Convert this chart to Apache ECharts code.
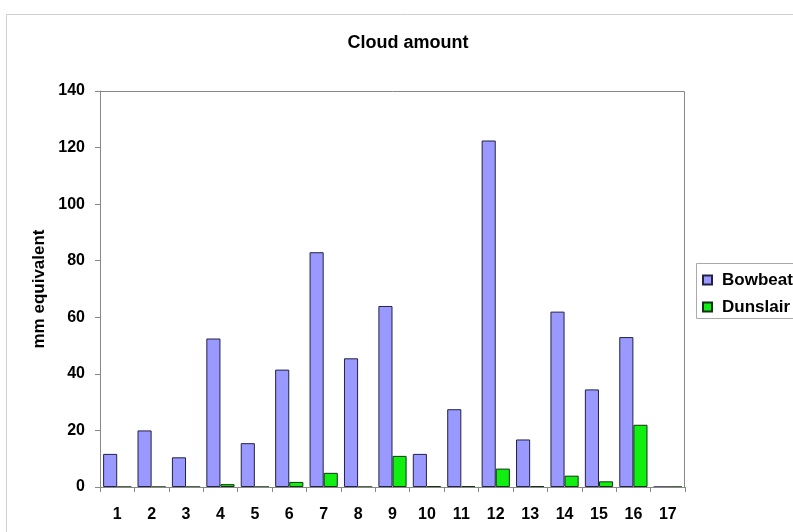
<!DOCTYPE html>
<html><head><meta charset="utf-8">
<script src="https://cdn.jsdelivr.net/npm/echarts@6/dist/echarts.min.js"></script>
<style>html,body{margin:0;padding:0;background:#fff}#c{width:793px;height:532px}</style>
</head><body><div id="c"></div>
<script>
var categories = ['1','2','3','4','5','6','7','8','9','10','11','12','13','14','15','16','17'];
var bowbeat = [11.7, 20, 10.5, 52.5, 15.5, 41.5, 83, 45.5, 64, 11.7, 27.5, 122.5, 16.8, 62, 34.5, 53, 0];
var dunslair = [0, 0, 0, 1, 0, 1.8, 5, 0, 11, 0.3, 0.3, 6.5, 0.3, 4, 2, 22, 0];
var yTicks = [0, 20, 40, 60, 80, 100, 120, 140];

var chart = echarts.init(document.getElementById('c'));
var font = 'Arial, "Liberation Sans", sans-serif';
chart.setOption({
  animation: false,
  backgroundColor: '#fff',
  title: {text: 'Cloud amount', left: 403, top: 29, textAlign: 'center',
    textStyle: {fontFamily: font, fontSize: 18, fontWeight: 'bold', color: '#000'}},
  graphic: [
    {type: 'rect', shape: {x: 6.5, y: 14.5, width: 800, height: 600}, style: {fill: 'none', stroke: '#d0d0d0', lineWidth: 1}, z: -1},
    {type: 'rect', shape: {x: 100.5, y: 91.5, width: 584, height: 396}, style: {fill: 'none', stroke: '#888', lineWidth: 1}, z: 5},
    {type: 'rect', shape: {x: 696.5, y: 263.5, width: 120, height: 55}, style: {fill: '#fff', stroke: '#aaa', lineWidth: 1}, z: 1}
  ],
  legend: {
    orient: 'vertical', left: 702, top: 271, itemGap: 9, itemWidth: 9, itemHeight: 9,
    icon: 'rect', padding: 0,
    textStyle: {fontFamily: font, fontSize: 17, fontWeight: 'bold', color: '#000', padding: [0,0,0,5], lineHeight: 18},
    z: 10
  },
  grid: {left: 100, top: 91, width: 585, height: 396, containLabel: false},
  xAxis: {
    type: 'category', data: categories,
    axisLine: {lineStyle: {color: '#888'}},
    axisTick: {show: true, length: 5, lineStyle: {color: '#888'}},
    axisLabel: {fontFamily: font, fontSize: 16, fontWeight: 'bold', color: '#000', margin: 20}
  },
  yAxis: {
    type: 'value', min: 0, max: 140, interval: 20,
    name: 'mm equivalent', nameLocation: 'middle', nameGap: 52, nameRotate: 90,
    nameTextStyle: {fontFamily: font, fontSize: 17, fontWeight: 'bold', color: '#000'},
    splitLine: {show: false},
    axisLine: {show: true, lineStyle: {color: '#888'}},
    axisTick: {show: true, length: 5, lineStyle: {color: '#888'}},
    axisLabel: {fontFamily: font, fontSize: 16, fontWeight: 'bold', color: '#000', margin: 15,
      formatter: function(v){ return yTicks.indexOf(v) >= 0 ? String(v) : ''; }}
  },
  series: [
    {name: 'Bowbeat', type: 'bar', data: bowbeat, barWidth: '41%', barGap: '0%',
     itemStyle: {color: '#9999FF', borderColor: '#222244', borderWidth: 1}},
    {name: 'Dunslair', type: 'bar', data: dunslair, barWidth: '41%',
     itemStyle: {color: '#11EE11', borderColor: '#113311', borderWidth: 1}}
  ]
});
</script></body></html>
